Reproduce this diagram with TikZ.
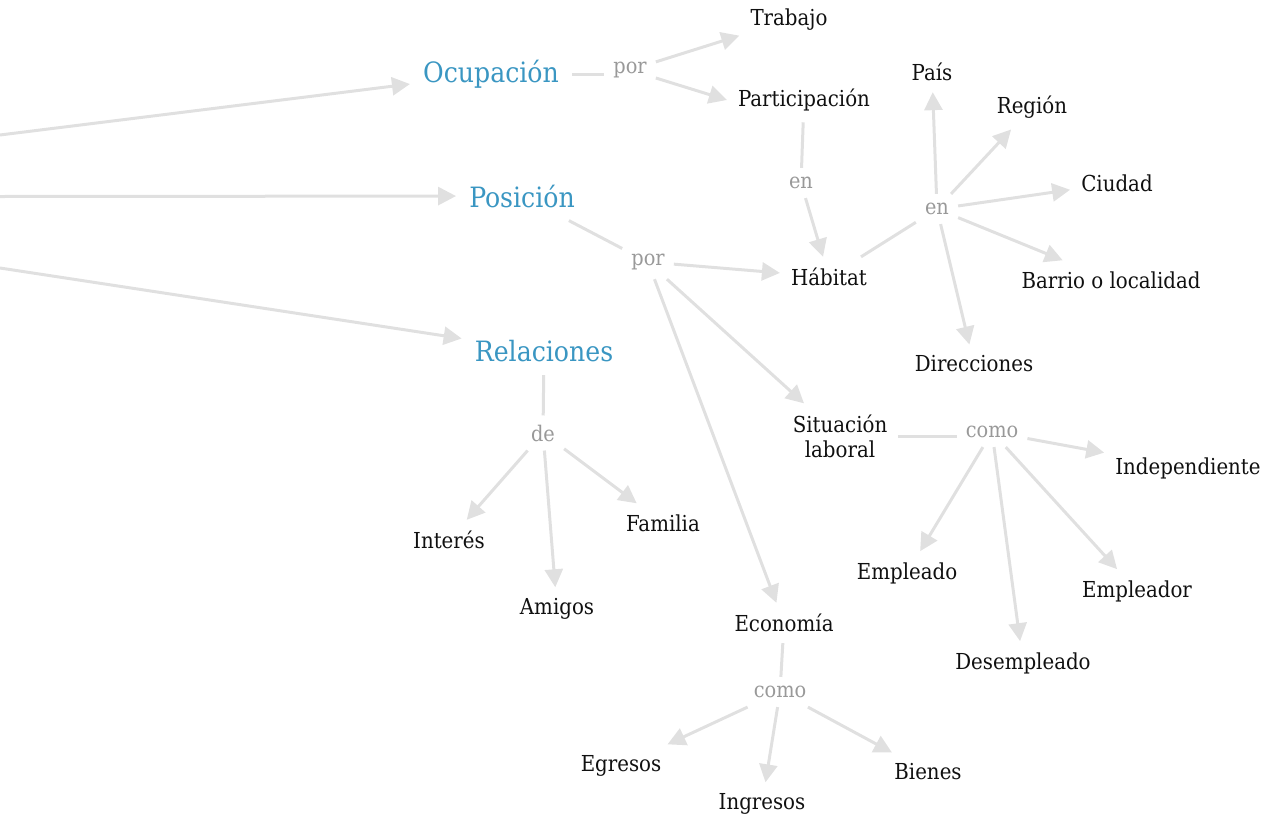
\documentclass[tikz,border=0pt]{standalone}
\usepackage{fontspec}
\setmainfont{DejaVu Serif Condensed}
\usetikzlibrary{arrows.meta}
\definecolor{lnk}{HTML}{E0E0E0}
\definecolor{blu}{HTML}{3A96C2}
\definecolor{gtxt}{HTML}{999999}
\definecolor{btxt}{HTML}{101010}
\begin{document}
\begin{tikzpicture}[x=1pt,y=-1pt,
  concept/.style={font=\fontsize{22}{25}\selectfont, text=btxt, inner sep=11pt, align=center},
  mainc/.style={font=\fontsize{28}{32}\selectfont, text=blu, inner sep=13pt},
  linkw/.style={font=\fontsize{21.5}{24}\selectfont, text=gtxt, inner sep=9pt},
  con/.style={draw=lnk, line width=3pt},
  arr/.style={con, -{Triangle[length=18pt,width=18pt]}}]
\path[use as bounding box] (0,0) rectangle (1266,817);

\coordinate (L1) at (0,135);
\coordinate (L2) at (0,196.5);
\coordinate (L3) at (0,268);

\node[mainc] (ocu) at (491,74) {Ocupación};
\node[mainc] (pos) at (522,196) {Posición};
\node[mainc] (rel) at (544,351) {Relaciones};

\node[linkw] (por1) at (630,70) {por};
\node[linkw] (en1) at (801,183) {en};
\node[linkw] (por2) at (648,262) {por};
\node[linkw] (en2) at (937,209) {en};
\node[linkw] (de) at (543,433) {de};
\node[linkw] (como1) at (992,432) {como};
\node[linkw] (como2) at (780,692) {como};

\node[concept] (trab) at (789,20) {Trabajo};
\node[concept] (part) at (804,100) {Participación};
\node[concept] (pais) at (932,72) {País};
\node[concept] (reg) at (1032,107) {Región};
\node[concept] (ciu) at (1117,183) {Ciudad};
\node[concept] (hab) at (829,277) {Hábitat};
\node[concept] (bar) at (1111,280) {Barrio o localidad};
\node[concept] (dir) at (974,364) {Direcciones};
\node[concept] (sit) at (840,436) {Situación\\laboral};
\node[concept] (ind) at (1188,468) {Independiente};
\node[concept] (int) at (449,540) {Interés};
\node[concept] (fam) at (663,523) {Familia};
\node[concept] (ami) at (557,609) {Amigos};
\node[concept] (emp) at (907,573) {Empleado};
\node[concept] (empr) at (1137,591) {Empleador};
\node[concept] (des) at (1023,663) {Desempleado};
\node[concept] (eco) at (784,623) {Economía};
\node[concept] (egr) at (621,766) {Egresos};
\node[concept] (ing) at (762,804) {Ingresos};
\node[concept] (bie) at (928,772) {Bienes};

\draw[arr] (L1) -- (ocu);
\draw[arr] (L2) -- (pos);
\draw[arr] (L3) -- (rel);

\draw[con] (ocu.east) -- (ocu.east -| por1.west);
\draw[arr] (por1) -- (trab);
\draw[arr] (por1) -- (part.west);
\draw[con] (part) -- (en1);
\draw[arr] (en1) -- (hab);

\draw[con] (pos) -- (por2);
\draw[arr] (por2) -- (hab);
\draw[arr] (por2) -- (sit);
\draw[arr] (por2) -- (eco);

\draw[con] (hab) -- (en2);
\draw[arr] (en2) -- (pais);
\draw[arr] (en2) -- (reg);
\draw[arr] (en2) -- (ciu);
\draw[arr] (en2) -- (bar);
\draw[arr] (en2) -- (dir);

\draw[con] (sit.east) -- (sit.east -| como1.west);
\draw[arr] (como1) -- (ind);
\draw[arr] (como1) -- (emp);
\draw[arr] (como1) -- (des);
\draw[arr] (como1) -- (empr);

\draw[con] (rel) -- (de);
\draw[arr] (de) -- (int);
\draw[arr] (de) -- (ami);
\draw[arr] (de) -- (fam);

\draw[con] (eco) -- (como2);
\draw[arr] (como2) -- (egr);
\draw[arr] (como2) -- (ing);
\draw[arr] (como2) -- (bie);
\end{tikzpicture}
\end{document}
